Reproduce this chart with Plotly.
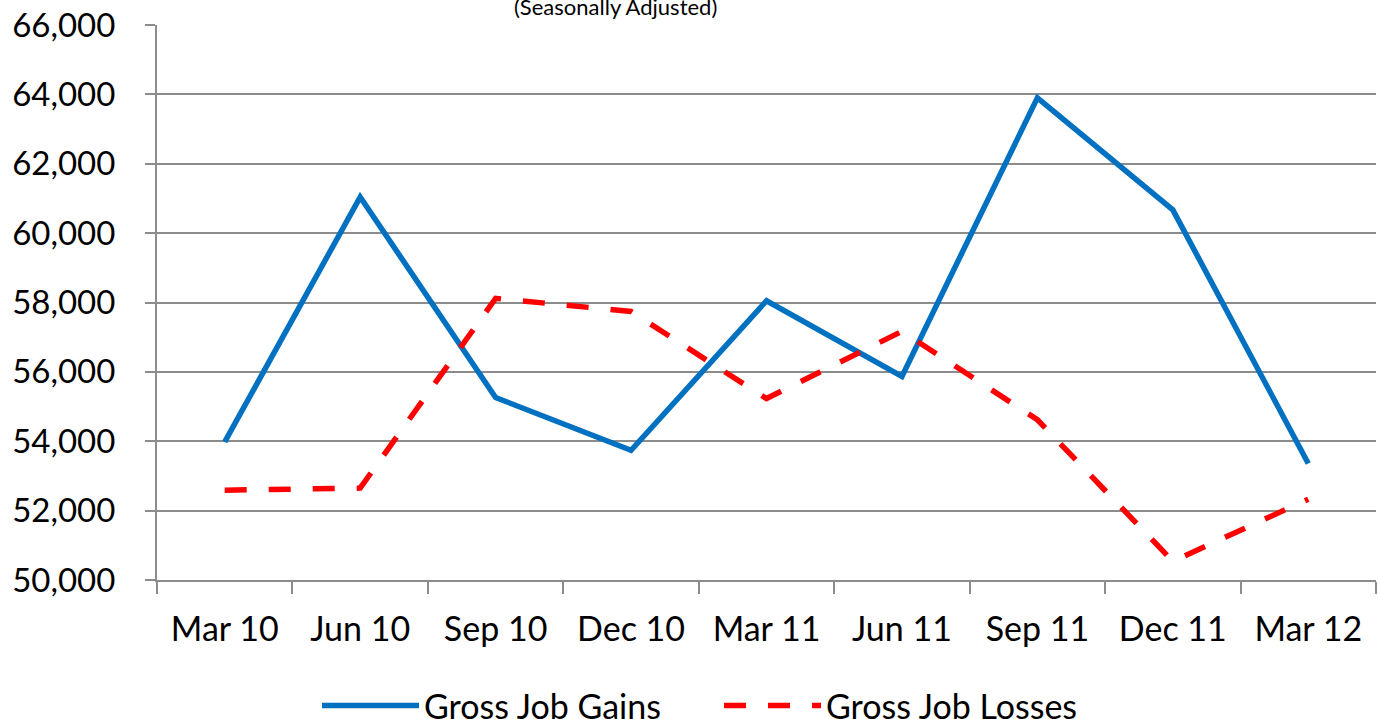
import plotly.graph_objects as go

quarters = ["Mar 10", "Jun 10", "Sep 10", "Dec 10", "Mar 11", "Jun 11", "Sep 11", "Dec 11", "Mar 12"]
gross_job_gains = [53980, 61040, 55260, 53740, 58050, 55870, 63900, 60670, 53360]
gross_job_losses = [52590, 52650, 58120, 57740, 55230, 57170, 54620, 50540, 52330]
y_ticks = [50000, 52000, 54000, 56000, 58000, 60000, 62000, 64000, 66000]
y_tick_labels = [f"{v:,}" for v in y_ticks]

FONT = "Lato"
fig = go.Figure()
fig.add_trace(go.Scatter(
    x=quarters, y=gross_job_gains, name="Gross Job Gains", mode="lines",
    line=dict(color="#0070C0", width=5.5),
))
fig.add_trace(go.Scatter(
    x=quarters, y=gross_job_losses, name="Gross Job Losses", mode="lines",
    line=dict(color="#FF0000", width=5.5, dash="22px,22px"),
))

fig.update_layout(
    width=1378, height=719,
    margin=dict(l=157, r=2, t=25, b=139),
    plot_bgcolor="white", paper_bgcolor="white",
    font=dict(family=FONT, size=33, color="black"),
    showlegend=True,
    legend=dict(
        orientation="h", xref="container", yref="container",
        x=719 / 1378, xanchor="center", y=13 / 719, yanchor="middle",
        font=dict(family=FONT, size=34), itemwidth=97,
        entrywidth=290, entrywidthmode="pixels",
        bgcolor="rgba(0,0,0,0)",
    ),
    annotations=[dict(
        text="(Seasonally Adjusted)", xref="paper", yref="paper",
        x=(615 - 157) / 1219, y=1 + 3 / 555, xanchor="center", yanchor="bottom",
        showarrow=False, font=dict(family=FONT, size=22, color="black"),
    )],
)
fig.update_xaxes(
    type="category", range=[-0.5, 8.5], tickson="boundaries", ticks="outside", ticklen=12,
    tickcolor="#8c8c8c", tickwidth=2, showline=True, linecolor="#8c8c8c", linewidth=2,
    showgrid=False, tickfont=dict(family=FONT, size=34), ticklabelstandoff=18,
    automargin=False,
)
fig.update_yaxes(
    range=[50000, 66000], tickvals=y_ticks, ticktext=y_tick_labels,
    ticks="outside", ticklen=10, tickcolor="#8c8c8c", tickwidth=2,
    showline=True, linecolor="#8c8c8c", linewidth=2,
    showgrid=True, gridcolor="#8c8c8c", gridwidth=2, zeroline=False,
    tickfont=dict(family=FONT, size=33), ticklabelstandoff=23,
    automargin=False,
)

fig.write_html(
    "out.html",
    config={"displayModeBar": False},
    post_script="document.body.style.margin='0';document.body.style.overflow='hidden';",
)
